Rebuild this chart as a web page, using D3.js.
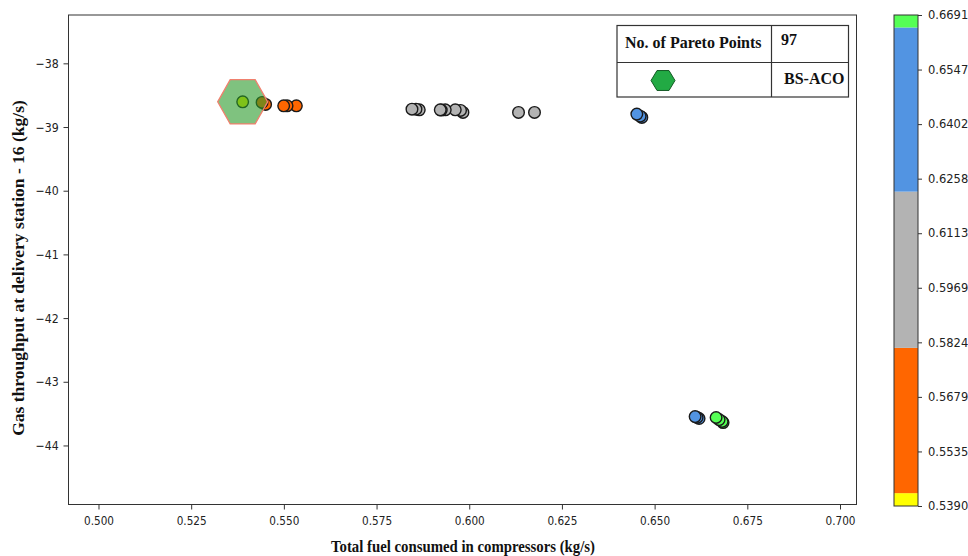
<!DOCTYPE html>
<html><head><meta charset="utf-8">
<script src="https://cdn.jsdelivr.net/npm/d3@7"></script>
<style>body{margin:0;background:#fff;} svg{display:block;}</style>
</head><body><svg id="c" width="968" height="556"></svg>
<script>
// ---- data ----
const fuel = [0.64655,0.64609,0.64520,0.55337,0.55086,0.54995,0.54507,0.54412,0.53889,
  0.58652,0.58563,0.58455,0.59830,0.59765,0.59623,0.59353,0.59245,0.59218,0.61329,0.61760,
  0.66199,0.66146,0.66092,0.66846,0.66820,0.66739,0.66658];
const throughput = [-38.849,-38.829,-38.797,-38.667,-38.667,-38.667,-38.645,-38.613,-38.604,
  -38.730,-38.719,-38.719,-38.770,-38.739,-38.730,-38.730,-38.734,-38.730,-38.770,-38.770,
  -43.577,-43.561,-43.546,-43.640,-43.624,-43.593,-43.561];
const bestFuel = [0.53889];
const bestThroughput = [-38.604];
const xTicks = [0.500,0.525,0.550,0.575,0.600,0.625,0.650,0.675,0.700];
const yTicks = [-38,-39,-40,-41,-42,-43,-44];
const cbTicks = ["0.6691","0.6547","0.6402","0.6258","0.6113","0.5969","0.5824","0.5679","0.5535","0.5390"];
const cbBounds = [0.5390,0.5424,0.5809,0.6223,0.6658,0.6691];
const cbColors = ["#ffff00","#ff6600","#b3b3b3","#5294e2","#55ff55"];
const paretoCount = "97";
const methodName = "BS-ACO";

// ---- layout ----
const svg = d3.select("#c");
const L=68.5, R=856.5, T=15, B=504.5;
const x = d3.scaleLinear().domain([0.49191,0.70445]).range([L,R]);
const y = d3.scaleLinear().domain([-44.927,-37.241]).range([B,T]);
const color = d3.scaleThreshold().domain(cbBounds.slice(1,-1)).range(cbColors);

const tickFont = "'DejaVu Sans', sans-serif";
const serif = "'Liberation Serif','Times New Roman',serif";

// axes
const xAxis = svg.append("g").attr("transform",`translate(0,${B})`)
  .call(d3.axisBottom(x).tickValues(xTicks).tickFormat(d3.format(".3f")).tickSize(5).tickSizeOuter(0));
const yAxis = svg.append("g").attr("transform",`translate(${L},0)`)
  .call(d3.axisLeft(y).tickValues(yTicks).tickFormat(d=>"\u2212"+Math.abs(d)).tickSize(5).tickSizeOuter(0));
[xAxis,yAxis].forEach(g=>{
  g.select(".domain").remove();
  g.selectAll("line").attr("stroke","#333");
  g.selectAll("text").attr("font-family",tickFont).attr("font-size","12.5px").attr("fill","#222");
});
xAxis.selectAll("text").attr("dy","1.0em").attr("transform","scale(0.84,1)");
yAxis.selectAll("text").attr("x",-11).attr("transform","scale(0.88,1)");
svg.append("rect").attr("x",L).attr("y",T).attr("width",R-L).attr("height",B-T)
  .attr("fill","none").attr("stroke","#333").attr("stroke-width",1);

// points
svg.append("g").selectAll("circle").data(fuel.map((f,i)=>[f,throughput[i]])).join("circle")
  .attr("cx",d=>x(d[0])).attr("cy",d=>y(d[1])).attr("r",5.8)
  .attr("fill",d=>color(d[0])).attr("stroke","#1a1a1a").attr("stroke-width",1.4);

// best hexagon
function hexPts(cx,cy,r,ry){
  return d3.range(6).map(k=>{const a=k*Math.PI/3;return [cx+r*Math.cos(a),cy+ry*Math.sin(a)];});
}
bestFuel.forEach((f,i)=>{
  const cx=x(f), cy=y(bestThroughput[i]);
  svg.append("polygon").attr("points",hexPts(cx,cy,25,25.5).map(p=>p.join(",")).join(" "))
    .attr("fill","#2a9a2a").attr("fill-opacity",0.6).attr("stroke","#f0806e").attr("stroke-width",1.3);
});

// legend table
const tg = svg.append("g");
const tx0=617, tx1=848.5, tx2=771.5, ty0=25.5, ty1=62.5, ty2=97;
tg.append("rect").attr("x",tx0).attr("y",ty0).attr("width",tx1-tx0).attr("height",ty2-ty0)
  .attr("fill","#fff").attr("stroke","#333").attr("stroke-width",1.2);
tg.append("line").attr("x1",tx0).attr("x2",tx1).attr("y1",ty1).attr("y2",ty1).attr("stroke","#333").attr("stroke-width",1.2);
tg.append("line").attr("x1",tx2).attr("x2",tx2).attr("y1",ty0).attr("y2",ty2).attr("stroke","#333").attr("stroke-width",1.2);
const lf = "16px";
tg.append("text").attr("x",625).attr("y",48).text("No. of Pareto Points")
  .attr("font-family",serif).attr("font-weight","bold").attr("font-size",lf).attr("fill","#111");
tg.append("text").attr("x",781).attr("y",45).text(paretoCount)
  .attr("font-family",serif).attr("font-weight","bold").attr("font-size",lf).attr("fill","#111");
tg.append("text").attr("x",784).attr("y",84).text(methodName)
  .attr("font-family",serif).attr("font-weight","bold").attr("font-size",lf).attr("fill","#111");
tg.append("polygon").attr("points",hexPts(663,80.5,12,11.5).map(p=>p.join(",")).join(" "))
  .attr("fill","#22aa44").attr("stroke","#145a25").attr("stroke-width",1);

// colorbar
const cbx=894, cbw=24;
const cy = d3.scaleLinear().domain([cbBounds[0],cbBounds[cbBounds.length-1]]).range([506,15]);
svg.append("g").selectAll("rect").data(cbColors).join("rect")
  .attr("x",cbx).attr("width",cbw)
  .attr("y",(d,i)=>cy(cbBounds[i+1])).attr("height",(d,i)=>cy(cbBounds[i])-cy(cbBounds[i+1]))
  .attr("fill",d=>d);
svg.append("rect").attr("x",cbx).attr("y",15).attr("width",cbw).attr("height",491)
  .attr("fill","none").attr("stroke","#333").attr("stroke-width",1);
const cbAxis = svg.append("g").attr("transform",`translate(${cbx+cbw},0)`)
  .call(d3.axisRight(d3.scalePoint().domain(cbTicks).range([15,506])).tickSize(4).tickPadding(6));
cbAxis.select(".domain").remove();
cbAxis.selectAll("line").attr("stroke","#333");
cbAxis.selectAll("text").attr("font-family",tickFont).attr("font-size","11.5px").attr("fill","#222");

// axis titles
svg.append("text").attr("transform","translate(463,552) scale(0.87,1)").attr("text-anchor","middle")
  .text("Total fuel consumed in compressors (kg/s)")
  .attr("font-family",serif).attr("font-weight","bold").attr("font-size","17px").attr("fill","#111");
svg.append("text").attr("transform","translate(24,268) rotate(-90)").attr("text-anchor","middle")
  .text("Gas throughput at delivery station - 16 (kg/s)")
  .attr("font-family",serif).attr("font-weight","bold").attr("font-size","17.5px").attr("fill","#111");
</script></body></html>
